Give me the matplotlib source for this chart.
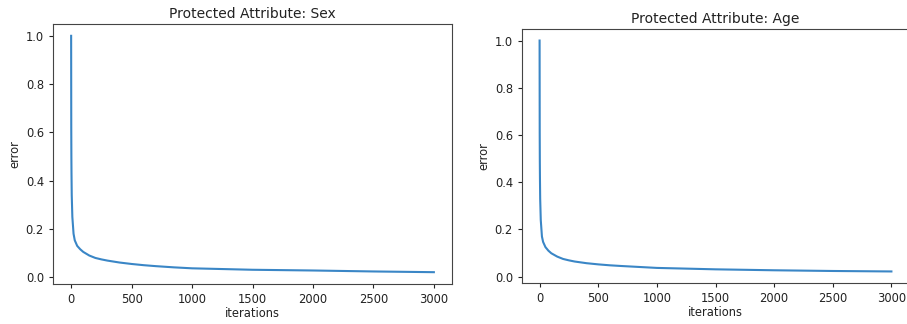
"""
Training error curves for the two protected attributes.
Output: out.png (907x324)
"""

import matplotlib.pyplot as plt

# --- Data -----------------------------------------------------------------
ITERS = [0, 1, 2, 3, 5, 10, 20, 30, 50, 75, 100, 150, 200, 250, 300, 400,
         500, 600, 700, 850, 1000, 1250, 1500, 2000, 2500, 3000]

ERR_SEX = [1.0, 0.62, 0.50, 0.43, 0.34, 0.25, 0.18, 0.153, 0.13, 0.116,
           0.105, 0.09, 0.080, 0.074, 0.069, 0.061, 0.055, 0.050, 0.046,
           0.041, 0.037, 0.034, 0.031, 0.028, 0.024, 0.021]

ERR_AGE = [1.0, 0.61, 0.49, 0.42, 0.33, 0.24, 0.17, 0.147, 0.125, 0.110,
           0.099, 0.085, 0.075, 0.069, 0.064, 0.057, 0.052, 0.048, 0.045,
           0.041, 0.037, 0.034, 0.031, 0.027, 0.024, 0.022]

TITLES = ["Protected Attribute: Sex", "Protected Attribute: Age"]
SERIES = [ERR_SEX, ERR_AGE]

# --- Style -----------------------------------------------------------------
LINE_CLR = "#3a86c6"
TEXT_CLR = "#222222"
SPINE_CLR = "#444444"

plt.rcParams.update({
    "font.family": "DejaVu Sans",
    "font.size": 8.3,
    "text.color": TEXT_CLR,
    "axes.labelcolor": TEXT_CLR,
    "xtick.color": TEXT_CLR,
    "ytick.color": TEXT_CLR,
    "axes.edgecolor": SPINE_CLR,
})

W, H = 907, 324
fig = plt.figure(figsize=(W / 100, H / 100), dpi=100)

# axes boxes in pixels: (left, top, right, bottom)
BOXES = [(53, 24, 452, 284), (522, 29, 909, 283)]

for (l, t, r, b), title, err in zip(BOXES, TITLES, SERIES):
    ax = fig.add_axes([l / W, (H - b) / H, (r - l) / W, (b - t) / H])
    ax.plot(ITERS, err, color=LINE_CLR, lw=1.5)
    ax.set_title(title, fontsize=10, pad=4)
    ax.set_xlabel("iterations", labelpad=1)
    ax.set_ylabel("error", labelpad=3)
    ax.set_xticks([0, 500, 1000, 1500, 2000, 2500, 3000])
    ax.set_yticks([0.0, 0.2, 0.4, 0.6, 0.8, 1.0])
    ax.tick_params(length=3, width=0.8, labelsize=8.3)

fig.savefig("out.png", dpi=100)
